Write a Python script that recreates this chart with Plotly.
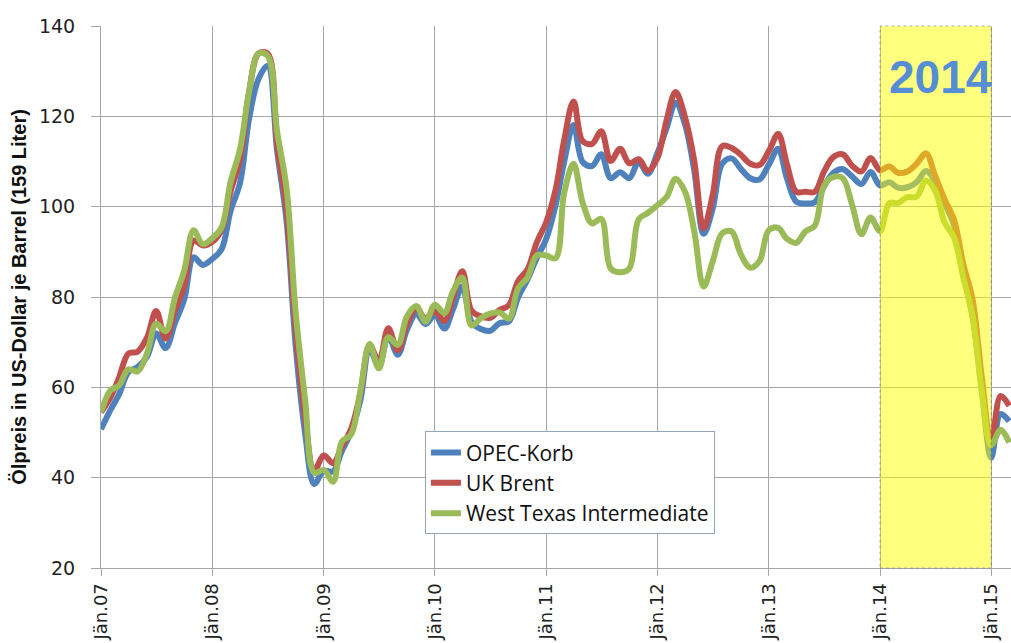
import plotly.graph_objects as go
import pandas as pd

# Monthly values, Jan 2007 .. Mar 2015 (US-Dollar per barrel)
dates = pd.date_range("2007-01-01", "2015-03-01", freq="MS")

opec = [
    50.7, 55.0, 58.4, 63.4, 64.5, 66.8, 71.9, 68.7, 74.3, 79.4, 88.8, 87.1,    # 2007
    88.4, 90.6, 99.0, 105.2, 119.4, 128.3, 131.2, 112.4, 96.9, 69.2, 49.8, 38.6,  # 2008
    41.5, 41.4, 45.8, 50.2, 57.0, 68.4, 64.6, 71.4, 67.2, 72.7, 76.3, 74.0,    # 2009
    76.0, 73.0, 77.2, 82.3, 74.5, 72.9, 72.5, 74.2, 74.6, 79.9, 83.9, 88.6,    # 2010
    92.8, 100.3, 109.8, 118.1, 109.9, 109.0, 111.6, 106.3, 107.6, 106.3, 109.9, 107.3,  # 2011
    111.8, 117.5, 123.0, 118.2, 108.1, 94.0, 99.6, 109.5, 110.7, 108.4, 106.3, 106.0,   # 2012
    109.3, 112.8, 106.4, 101.1, 100.7, 101.0, 104.5, 107.5, 108.3, 106.7, 105.0, 107.7,  # 2013
    104.7, 105.4, 104.2, 104.3, 105.4, 107.9, 105.6, 100.8, 95.9, 85.1, 75.6, 59.5,     # 2014
    44.4, 54.1, 52.5,                                                            # 2015
]
brent = [
    54.5, 57.8, 62.1, 67.5, 67.9, 71.0, 76.9, 70.8, 77.0, 82.5, 92.5, 91.4,
    92.2, 94.9, 103.3, 110.4, 125.4, 133.9, 133.9, 113.9, 99.1, 72.8, 53.2, 41.6,
    44.9, 43.2, 46.8, 50.8, 58.6, 69.3, 65.8, 73.1, 68.2, 73.9, 77.5, 75.2,
    76.9, 74.7, 79.9, 85.7, 77.0, 75.7, 75.4, 77.1, 78.2, 83.5, 86.1, 92.0,
    96.5, 103.7, 114.6, 123.3, 114.5, 113.9, 116.7, 110.1, 112.8, 109.6, 110.5, 107.9,
    110.7, 119.3, 125.4, 119.8, 110.3, 95.2, 102.6, 113.4, 113.0, 111.5, 109.5, 109.2,
    112.3, 116.1, 109.5, 103.3, 103.3, 103.3, 107.7, 111.0, 111.6, 109.1, 107.8, 110.8,
    108.1, 108.9, 107.5, 107.8, 109.5, 111.8, 106.8, 101.6, 97.1, 87.4, 79.4, 62.3,
    47.8, 58.1, 55.9,
]
wti = [
    54.5, 59.3, 60.4, 64.0, 63.5, 67.5, 74.1, 72.4, 79.9, 85.8, 94.8, 91.7,
    93.0, 95.4, 105.4, 112.6, 125.4, 133.9, 133.4, 116.7, 104.1, 76.6, 57.3, 41.1,
    41.7, 39.1, 47.9, 49.6, 59.0, 69.6, 64.2, 71.1, 69.4, 75.7, 78.0, 74.5,
    78.3, 76.4, 81.2, 84.3, 73.7, 75.3, 76.3, 76.6, 75.2, 81.9, 84.3, 89.2,
    89.2, 88.6, 102.9, 109.5, 100.9, 96.3, 97.3, 86.3, 85.5, 86.3, 97.2, 98.6,
    100.3, 102.2, 106.2, 103.3, 94.7, 82.3, 87.9, 94.1, 94.5, 89.5, 86.5, 87.9,
    94.8, 95.3, 92.9, 92.0, 94.5, 95.8, 104.6, 106.6, 106.3, 100.5, 93.9, 97.6,
    94.6, 100.8, 100.8, 102.1, 102.2, 105.8, 103.6, 96.5, 93.2, 84.4, 75.8, 59.3,
    47.2, 50.6, 47.8,
]

series_names = ["OPEC-Korb", "UK Brent", "West Texas Intermediate"]
series_colors = ["#4F81BD", "#C0504D", "#9BBB59"]

tick_dates = pd.date_range("2007-01-01", "2015-01-01", freq="YS")
tick_labels = ["Jän.07", "Jän.08", "Jän.09", "Jän.10", "Jän.11",
               "Jän.12", "Jän.13", "Jän.14", "Jän.15"]

highlight_start = "2014-01-01"
highlight_end = "2015-01-01"
highlight_label = "2014"

fig = go.Figure()
for name, vals, col in zip(series_names, [opec, brent, wti], series_colors):
    fig.add_trace(go.Scatter(
        x=dates, y=vals, name=name, mode="lines",
        line=dict(color=col, width=6, shape="spline", smoothing=1.0),
    ))

fig.add_shape(
    type="rect", xref="x", yref="paper",
    x0=highlight_start, x1=highlight_end, y0=0, y1=1,
    fillcolor="#FFFF00", opacity=0.5, layer="above",
    line=dict(color="#666666", width=1, dash="dot"),
)

fig.add_annotation(
    x="2014-07-18", y=128.7, xref="x", yref="y",
    text="<b>" + highlight_label + "</b>", showarrow=False,
    font=dict(family="Liberation Sans, Arial, sans-serif", size=46, color="#558ED5"),
    xanchor="center", yanchor="middle",
)

fig.update_layout(
    width=1011, height=643,
    margin=dict(l=101, r=0, t=26, b=75),
    paper_bgcolor="white", plot_bgcolor="white",
    showlegend=True,
    legend=dict(
        x=0.356, y=0.252, xanchor="left", yanchor="top",
        bgcolor="white", bordercolor="#95A5B8", borderwidth=1,
        font=dict(family="Open Sans, sans-serif", size=21, color="#111111"),
        traceorder="normal", tracegroupgap=0,
    ),
)

fig.update_xaxes(
    range=["2007-01-01", "2015-03-07"],
    tickmode="array", tickvals=tick_dates, ticktext=tick_labels,
    tickangle=-90,
    tickfont=dict(family="DejaVu Sans, sans-serif", size=18, color="#222222"),
    showgrid=True, gridcolor="#A6A6A6", gridwidth=1,
    showline=True, linecolor="#A6A6A6", linewidth=1,
    ticks="outside", ticklen=7, tickcolor="#A6A6A6",
    automargin=False, zeroline=False,
)

fig.update_yaxes(
    range=[20, 140], dtick=20, tick0=20,
    tickfont=dict(family="DejaVu Sans, sans-serif", size=19, color="#222222"),
    showgrid=True, gridcolor="#A6A6A6", gridwidth=1,
    showline=True, linecolor="#A6A6A6", linewidth=1,
    ticks="outside", ticklen=9, tickcolor="#A6A6A6",
    ticklabelstandoff=12,
    title=dict(
        text="<b>Ölpreis in US-Dollar je Barrel (159 Liter)</b>",
        font=dict(family="Liberation Sans, Arial, sans-serif", size=20, color="#111111"),
        standoff=6,
    ),
    automargin=False, zeroline=False,
)

fig.write_html(
    "out.html",
    config={"displayModeBar": False},
    post_script="document.body.style.margin='0';document.body.style.overflow='hidden';",
)
